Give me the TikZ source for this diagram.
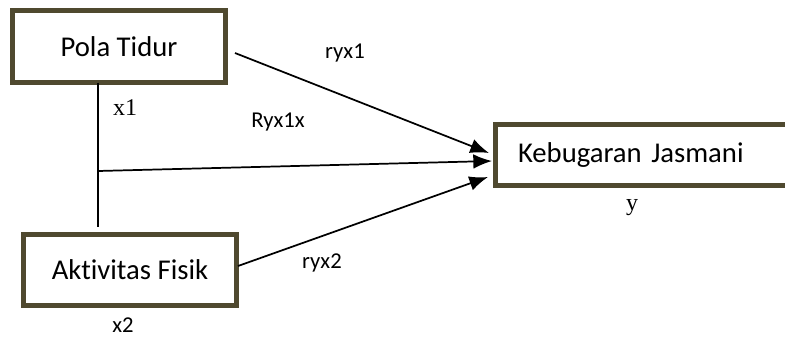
\documentclass[tikz,border=0pt]{standalone}
\usepackage{fontspec}
\setmainfont[Ligatures=NoCommon]{Carlito}
\newfontfamily\timesfont{Liberation Serif}
\usetikzlibrary{arrows.meta}
\definecolor{boxline}{RGB}{79,73,47}
\begin{document}
\begin{tikzpicture}[x=0.75pt,y=-0.75pt]
  \tikzstyle{var}=[rectangle,draw=boxline,line width=3.6pt,outer sep=0pt,
                   minimum width=159.75pt,font=\fontsize{21.5}{25}\selectfont]
  \tikzstyle{path}=[line width=1.3pt,-{Latex[length=14pt,width=11pt]}]
  \tikzstyle{lbl}=[anchor=base,inner sep=0pt,font=\fontsize{17}{20}\selectfont]
  \tikzstyle{lblserif}=[anchor=base,inner sep=0pt,font=\timesfont\fontsize{18}{20}\selectfont]
  \clip (0,0) rectangle (785,336);
  % variabel
  \node[var,minimum height=54pt] (pola) at (119,46.5) {Pola Tidur};
  \node[var,minimum height=53.25pt] (fisik) at (130,270) {Aktivitas Fisik};
  \node[var,anchor=west,minimum height=45.75pt,inner xsep=16.9pt,
        text width=198.7pt,align=left] (bugar) at (495.5,155) {Kebugaran Jasmani};
  \coordinate (j) at (98,171);
  % jalur
  \draw[line width=1.3pt] ([shift={(-21,0)}]pola.south) -- ([shift={(-32,-7.5)}]fisik.north);
  \draw[path] ([shift={(9.5,6.5)}]pola.east) -- ([shift={(-6.5,-2)}]bugar.west);
  \draw[path] (j) -- ([shift={(-3.5,6)}]bugar.west);
  \draw[path] ([shift={(1.5,-4)}]fisik.east) -- ([shift={(-7.5,22)}]bugar.west);
  % label
  \node[lbl] (r1) at (345,58) {ryx1};
  \node[lbl] (r12) at (278,127) {Ryx1x};
  \node[lbl] (r2) at (322,268) {ryx2};
  \node[lbl] (lx2) at (123,332) {x2};
  \node[lblserif] (lx1) at (125,115) {x1};
  \node[lblserif] (ly) at (632,210) {y};
\end{tikzpicture}
\end{document}
